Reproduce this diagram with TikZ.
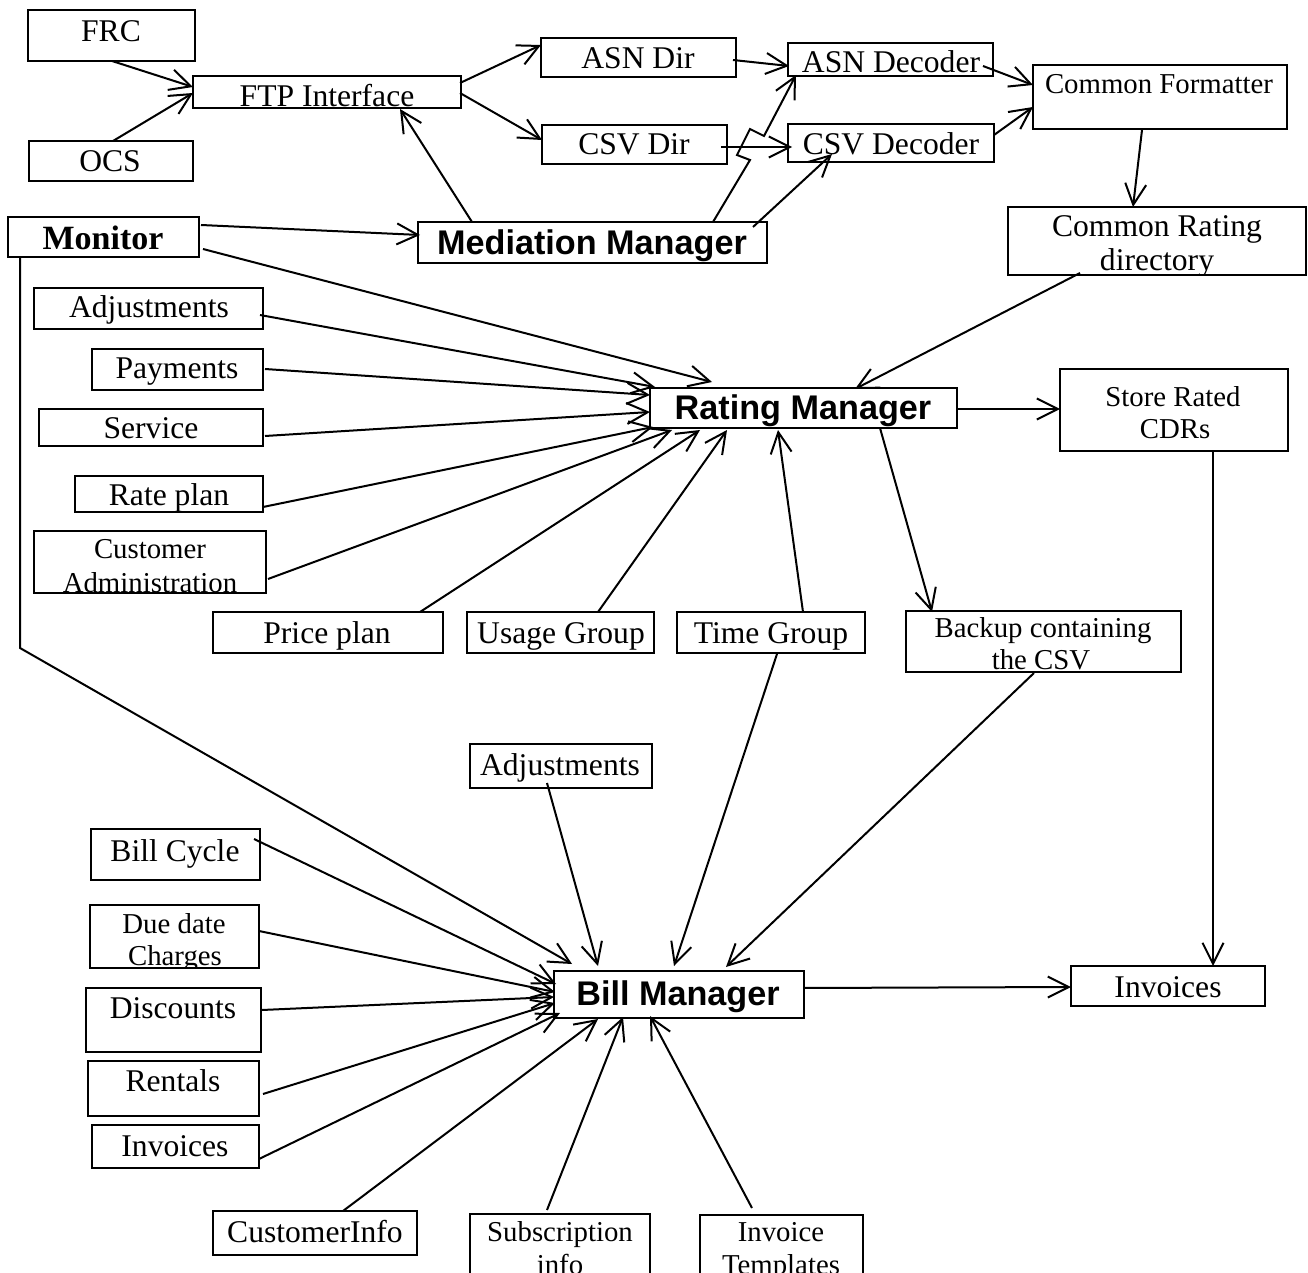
\documentclass[tikz,border=0pt]{standalone}
\usepackage{fontspec}
\setmainfont{Liberation Serif}
\setsansfont{Liberation Sans}
\usetikzlibrary{arrows.meta,fit,calc}
\newcommand\rp[3]{($(#1.north west)+(#2,#3)$)}
\begin{document}
\begin{tikzpicture}[x=0.5pt,y=-0.5pt,
  box/.style={draw, line width=1pt, inner sep=0pt, outer sep=0pt, rectangle},
  lbl/.style={anchor=base, inner sep=0pt, font=\fontsize{15.8}{18}\selectfont},
  sml/.style={anchor=base, inner sep=0pt, font=\fontsize{14.4}{17}\selectfont},
  mgr/.style={anchor=base, inner sep=0pt, font=\fontsize{17.1}{20}\selectfont\sffamily\bfseries},
  mon/.style={anchor=base, inner sep=0pt, font=\fontsize{17}{20}\selectfont\bfseries},
  arr/.style={line width=1pt, -{Straight Barb[length=10.5pt,width=10.5pt]}}]
\clip (0,0) rectangle (1308,1273);
\fill[white] (0,0) rectangle (1308,1273);
% boxes
\node[box, fit={(28,10) (195,61)}] (frc) {};
\node[box, fit={(29,141) (193,181)}] (ocs) {};
\node[box, fit={(193,76) (461,108)}] (ftp) {};
\node[box, fit={(541,38) (736,77)}] (asndir) {};
\node[box, fit={(542,125) (727,164)}] (csvdir) {};
\node[box, fit={(788,43) (993,76)}] (asndec) {};
\node[box, fit={(788,124) (994,162)}] (csvdec) {};
\node[box, fit={(1033,65) (1287,129)}] (cf) {};
\node[box, fit={(1008,207) (1306,275)}] (crd) {};
\node[box, fit={(8,217) (199,257)}] (mon) {};
\node[box, fit={(418,222) (767,263)}] (mm) {};
\node[box, fit={(34,288) (263,329)}] (adj1) {};
\node[box, fit={(92,349) (263,390)}] (pay) {};
\node[box, fit={(39,409) (263,446)}] (svc) {};
\node[box, fit={(75,476) (263,512)}] (rate) {};
\node[box, fit={(34,531) (266,593)}] (cadm) {};
\node[box, fit={(213,612) (443,653)}] (price) {};
\node[box, fit={(467,612) (654,653)}] (usage) {};
\node[box, fit={(677,612) (865,653)}] (timeg) {};
\node[box, fit={(906,611) (1181,672)}] (backup) {};
\node[box, fit={(1060,369) (1288,451)}] (store) {};
\node[box, fit={(650,388) (957,428)}] (rm) {};
\node[box, fit={(470,744) (652,788)}] (adj2) {};
\node[box, fit={(91,829) (260,880)}] (bc) {};
\node[box, fit={(90,905) (259,968)}] (due) {};
\node[box, fit={(86,988) (261,1052)}] (disc) {};
\node[box, fit={(88,1061) (259,1116)}] (rent) {};
\node[box, fit={(92,1125) (259,1168)}] (inv1) {};
\node[box, fit={(213,1211) (417,1255)}] (cinfo) {};
\node[box, fit={(470,1214) (650,1300)}] (sub) {};
\node[box, fit={(554,971) (804,1018)}] (bm) {};
\node[box, fit={(1071,966) (1265,1006)}] (inv2) {};
\node[box, fit={(700,1215) (863,1300)}] (tmpl) {};
% labels
\node[lbl] (frc-t) at (111,42) {FRC};
\node[lbl] (ocs-t) at (110,172) {OCS};
\node[lbl] (ftp-t) at (327,107) {FTP Interface};
\node[lbl] (asndir-t) at (638,69) {ASN Dir};
\node[lbl] (csvdir-t) at (634,155) {CSV Dir};
\node[lbl] (asndec-t) at (891,73) {ASN Decoder};
\node[lbl] (csvdec-t) at (891,155) {CSV Decoder};
\node[sml] (cf-t) at (1159,94) {Common Formatter};
\begin{scope}
\clip (crd.north west) rectangle (crd.south east);
\node[lbl] (crd-t1) at (1157,237) {Common Rating};
\node[lbl] (crd-t2) at (1157,271) {directory};
\end{scope}
\node[mon] (mon-t) at (103,250) {Monitor};
\node[mgr] (mm-t) at (592,255) {Mediation Manager};
\node[lbl] (adj1-t) at (149,318) {Adjustments};
\node[lbl] (pay-t) at (177,379) {Payments};
\node[lbl] (svc-t) at (151,439) {Service};
\node[lbl] (rate-t) at (169,505) {Rate plan};
\begin{scope}
\clip (cadm.north west) rectangle (cadm.south east);
\node[sml] (cadm-t1) at (150,559) {Customer};
\node[sml] (cadm-t2) at (150,592) {Administration};
\end{scope}
\node[lbl] (price-t) at (327,643) {Price plan};
\node[lbl] (usage-t) at (561,643) {Usage Group};
\node[lbl] (timeg-t) at (771,643) {Time Group};
\begin{scope}
\clip (backup.north west) rectangle (backup.south east);
\node[sml] (backup-t1) at (1043,637) {Backup containing};
\node[sml] (backup-t2) at (1041,669) {the CSV};
\end{scope}
\node[sml] (store-t1) at (1173,407) {Store Rated};
\node[sml] (store-t2) at (1175,439) {CDRs};
\node[mgr] (rm-t) at (803,420) {Rating Manager};
\node[lbl] (adj2-t) at (560,775) {Adjustments};
\node[lbl] (bc-t) at (175,861) {Bill Cycle};
\begin{scope}
\clip (due.north west) rectangle (due.south east);
\node[sml] (due-t1) at (174,933) {Due date};
\node[sml] (due-t2) at (175,965) {Charges};
\end{scope}
\node[lbl] (disc-t) at (173,1018) {Discounts};
\node[lbl] (rent-t) at (173,1091) {Rentals};
\node[lbl] (inv1-t) at (175,1156) {Invoices};
\node[lbl] (cinfo-t) at (315,1242) {CustomerInfo};
\begin{scope}
\clip (sub.north west) rectangle (sub.south east);
\node[sml] (sub-t1) at (560,1241) {Subscription};
\node[sml] (sub-t2) at (560,1274) {info};
\end{scope}
\begin{scope}
\clip (tmpl.north west) rectangle (tmpl.south east);
\node[sml] (tmpl-t1) at (781,1241) {Invoice};
\node[sml] (tmpl-t2) at (781,1274) {Templates};
\end{scope}
\node[mgr] (bm-t) at (678,1005) {Bill Manager};
\node[lbl] (inv2-t) at (1168,997) {Invoices};
% connectors
\draw[arr] \rp{frc}{84}{51} -- \rp{ftp}{0}{11};
\draw[arr] \rp{ocs}{84}{0} -- \rp{ftp}{0}{17};
\draw[arr] \rp{mm}{54}{0} -- \rp{ftp}{207}{33};
\draw[arr] \rp{ftp}{267}{7} -- \rp{asndir}{0}{7};
\draw[arr] \rp{ftp}{267}{17} -- \rp{csvdir}{0}{15};
\draw[arr] \rp{asndir}{192}{22} -- \rp{asndec}{1}{23};
\draw[arr] \rp{csvdir}{179}{22} -- \rp{csvdec}{4}{23};
\draw[arr] \rp{mm}{295}{0} -- ++(37,-62) -- ++(-13,-5) -- ++(13,-26) -- ++(14,7) -- \rp{asndec}{8}{32};
\draw[arr] \rp{mm}{335}{5} -- \rp{csvdec}{44}{30};
\draw[arr] \rp{asndec}{195}{23} -- \rp{cf}{0}{20};
\draw[arr] \rp{csvdec}{206}{11} -- \rp{cf}{0}{42};
\draw[arr] \rp{cf}{109}{65} -- \rp{crd}{125}{0};
\draw[arr] \rp{crd}{72}{66} -- \rp{rm}{205}{1};
\draw[arr] \rp{mon}{193}{8} -- \rp{mm}{2}{13};
\draw[arr] \rp{mon}{195}{32} -- \rp{rm}{62}{-6};
\draw[arr] \rp{adj1}{226}{27} -- \rp{rm}{5}{-1};
\draw[arr] \rp{pay}{173}{20} -- \rp{rm}{0}{7};
\draw[arr] \rp{svc}{226}{27} -- \rp{rm}{0}{24};
\draw[arr] \rp{rate}{188}{31} -- \rp{rm}{3}{39};
\draw[arr] \rp{cadm}{234}{48} -- \rp{rm}{22}{42};
\draw[arr] \rp{price}{207}{0} -- \rp{rm}{50}{42};
\draw[arr] \rp{usage}{131}{0} -- \rp{rm}{77}{42};
\draw[arr] \rp{timeg}{126}{0} -- \rp{rm}{128}{42};
\draw[arr] \rp{rm}{230}{40} -- \rp{backup}{26}{1};
\draw[arr] \rp{rm}{307}{21} -- \rp{store}{0}{40};
\draw[arr] \rp{store}{153}{82} -- \rp{inv2}{142}{0};
\draw[arr] \rp{timeg}{100}{42} -- \rp{bm}{120}{-5};
\draw[arr] \rp{backup}{128}{62} -- \rp{bm}{172}{-4};
\draw[arr] \rp{mon}{12}{40} -- ++(0,391) -- \rp{bm}{18}{-7};
\draw[arr] \rp{adj2}{77}{39} -- \rp{bm}{44}{-5};
\draw[arr] \rp{bc}{163}{10} -- \rp{bm}{2}{13};
\draw[arr] \rp{due}{169}{26} -- \rp{bm}{1}{21};
\draw[arr] \rp{disc}{176}{22} -- \rp{bm}{0}{26};
\draw[arr] \rp{rent}{175}{33} -- \rp{bm}{1}{32};
\draw[arr] \rp{inv1}{167}{34} -- \rp{bm}{6}{42};
\draw[arr] \rp{cinfo}{130}{0} -- \rp{bm}{44}{48};
\draw[arr] \rp{sub}{77}{-4} -- \rp{bm}{69}{46};
\draw[arr] \rp{tmpl}{52}{-7} -- \rp{bm}{96}{45};
\draw[arr] \rp{bm}{250}{17} -- \rp{inv2}{0}{21};
\end{tikzpicture}
\end{document}
